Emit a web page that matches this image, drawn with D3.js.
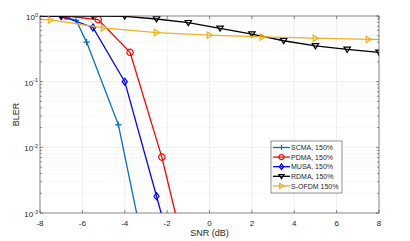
<!DOCTYPE html>
<html>
<head>
<meta charset="utf-8">
<script src="https://cdn.jsdelivr.net/npm/d3@7"></script>
<style>
  body { margin: 0; background: #fff; }
  text { font-family: "Liberation Sans", Arial, sans-serif; fill: #262626; }
</style>
</head>
<body>
<script>
var width = 410, height = 241;
var margin = {top: 16, right: 31, bottom: 28, left: 40};

// values
var xTicks = [-8, -6, -4, -2, 0, 2, 4, 6, 8];
var yTicks = [1, 0.1, 0.01, 0.001];
var yTickExp = ["0", "-1", "-2", "-3"];

var seriesNames = ["SCMA, 150%", "PDMA, 150%", "MUSA, 150%", "RDMA, 150%", "S-OFDM 150%"];
var seriesColors = ["#0072BD", "#FF0000", "#0000FF", "#000000", "#EDB120"];
var seriesMarkers = ["plus", "circle", "diamond", "down", "right"];

var scmaSnr  = [-8, -7, -6.3, -5.8, -4.3, -2.8];
var scmaBler = [1.0, 1.0, 0.86, 0.40, 0.022, 0.0001];
var scmaMarks = [1, 2, 3, 4];

var pdmaSnr  = [-8, -6.75, -5.25, -3.75, -2.25, -0.75];
var pdmaBler = [1.0, 1.0, 0.88, 0.28, 0.0071, 0.00007];
var pdmaMarks = [1, 2, 3, 4];

var musaSnr  = [-8, -7, -5.5, -4, -2.5, -1];
var musaBler = [1.0, 1.0, 0.67, 0.1, 0.0018, 0.00003];
var musaMarks = [1, 2, 3, 4];

var rdmaSnr  = [-8, -7, -5.5, -4, -2.5, -1, 0.5, 2, 3.5, 5, 6.5, 8];
var rdmaBler = [1.0, 1.0, 1.0, 0.99, 0.9, 0.79, 0.65, 0.53, 0.42, 0.35, 0.31, 0.28];
var rdmaMarks = [1, 2, 3, 4, 5, 6, 7, 8, 9, 10, 11];

var sofdmSnr  = [-8, -7.5, -5, -2.5, 0, 2.5, 5, 7.5, 8];
var sofdmBler = [0.89, 0.87, 0.66, 0.56, 0.51, 0.48, 0.46, 0.44, 0.44];
var sofdmMarks = [1, 2, 3, 4, 5, 6, 7];

var allSnr = [scmaSnr, pdmaSnr, musaSnr, rdmaSnr, sofdmSnr];
var allBler = [scmaBler, pdmaBler, musaBler, rdmaBler, sofdmBler];
var allMarks = [scmaMarks, pdmaMarks, musaMarks, rdmaMarks, sofdmMarks];

var series = seriesNames.map(function(name, i) {
  return {
    name: name, color: seriesColors[i], marker: seriesMarkers[i],
    points: allSnr[i].map(function(x, j) { return {x: x, y: allBler[i][j]}; }),
    marks: allMarks[i]
  };
});

var w = width - margin.left - margin.right,
    h = height - margin.top - margin.bottom;

var x = d3.scaleLinear().domain([-8, 8]).range([0, w]);
var y = d3.scaleLog().domain([1e-3, 1]).range([h, 0]);

var svg = d3.select("body").append("svg")
    .attr("width", width)
    .attr("height", height);

var g = svg.append("g").attr("transform", "translate(" + margin.left + "," + margin.top + ")");

svg.append("defs").append("clipPath").attr("id", "clip")
  .append("rect").attr("width", w).attr("height", h);

g.append("rect").attr("width", w).attr("height", h).attr("fill", "#fff");

// minor grid (log)
var minors = [];
[1e-3, 1e-2, 1e-1].forEach(function(d) {
  for (var k = 2; k <= 9; k++) minors.push(d * k);
});
g.selectAll(".minor").data(minors).enter().append("line")
    .attr("x1", 0).attr("x2", w)
    .attr("y1", function(d) { return y(d); }).attr("y2", function(d) { return y(d); })
    .attr("stroke", "#e8e8e8").attr("stroke-width", 0.6)
    .attr("stroke-dasharray", "1,1");

// major grid
g.selectAll(".gx").data(xTicks).enter().append("line")
    .attr("x1", function(d) { return x(d); }).attr("x2", function(d) { return x(d); })
    .attr("y1", 0).attr("y2", h)
    .attr("stroke", "#e6e6e6").attr("stroke-width", 0.7);
g.selectAll(".gy").data(yTicks).enter().append("line")
    .attr("x1", 0).attr("x2", w)
    .attr("y1", function(d) { return y(d); }).attr("y2", function(d) { return y(d); })
    .attr("stroke", "#e6e6e6").attr("stroke-width", 0.7);

// lines and markers
var line = d3.line()
    .x(function(d) { return x(d.x); })
    .y(function(d) { return y(d.y); });

var plot = g.append("g").attr("clip-path", "url(#clip)");

function markerPath(type, s) {
  if (type === "plus") return "M" + (-s) + ",0H" + s + "M0," + (-s) + "V" + s;
  if (type === "circle") return d3.symbol().type(d3.symbolCircle).size(s * s * 3.1)();
  if (type === "diamond") return "M0," + (-s * 1.1) + "L" + (s * 0.8) + ",0L0," + (s * 1.1) + "L" + (-s * 0.8) + ",0Z";
  if (type === "down") return "M" + (-s) + "," + (-s * 0.7) + "L" + s + "," + (-s * 0.7) + "L0," + (s * 0.9) + "Z";
  if (type === "right") return "M" + (-s * 0.7) + "," + (-s) + "L" + (s * 0.9) + ",0L" + (-s * 0.7) + "," + s + "Z";
}

series.forEach(function(s) {
  plot.append("path")
      .datum(s.points)
      .attr("fill", "none")
      .attr("stroke", s.color)
      .attr("stroke-width", 1.3)
      .attr("d", line);

  plot.selectAll(null)
    .data(s.marks.map(function(i) { return s.points[i]; }))
    .enter().append("path")
      .attr("transform", function(d) { return "translate(" + x(d.x) + "," + y(d.y) + ")"; })
      .attr("d", markerPath(s.marker, 3.2))
      .attr("fill", "none")
      .attr("stroke", s.color)
      .attr("stroke-width", 1.2);
});

// axes box and ticks
g.append("rect").attr("width", w).attr("height", h)
    .attr("fill", "none").attr("stroke", "#262626").attr("stroke-width", 0.5);

var tickLen = 3;
xTicks.forEach(function(d) {
  g.append("line").attr("x1", x(d)).attr("x2", x(d)).attr("y1", h).attr("y2", h - tickLen)
      .attr("stroke", "#262626").attr("stroke-width", 0.5);
  g.append("line").attr("x1", x(d)).attr("x2", x(d)).attr("y1", 0).attr("y2", tickLen)
      .attr("stroke", "#262626").attr("stroke-width", 0.5);
});
yTicks.concat(minors).forEach(function(d, i) {
  var len = i < yTicks.length ? tickLen : tickLen * 0.6;
  g.append("line").attr("x1", 0).attr("x2", len).attr("y1", y(d)).attr("y2", y(d))
      .attr("stroke", "#262626").attr("stroke-width", 0.5);
  g.append("line").attr("x1", w).attr("x2", w - len).attr("y1", y(d)).attr("y2", y(d))
      .attr("stroke", "#262626").attr("stroke-width", 0.5);
});

g.selectAll(".xl").data(xTicks).enter().append("text")
    .attr("x", function(d) { return x(d); })
    .attr("y", h + 13)
    .attr("text-anchor", "middle")
    .attr("font-size", 8)
    .text(function(d) { return d; });

var yl = g.selectAll(".yl").data(yTicks).enter().append("text")
    .attr("x", -2)
    .attr("y", function(d) { return y(d) + 4; })
    .attr("text-anchor", "end")
    .attr("font-size", 8);
yl.append("tspan").text("10");
yl.append("tspan").attr("dy", -3.5).attr("font-size", 5.5)
    .text(function(d, i) { return yTickExp[i]; });

svg.append("text")
    .attr("x", margin.left + w / 2)
    .attr("y", 236)
    .attr("text-anchor", "middle")
    .attr("font-size", 9)
    .text("SNR (dB)");

svg.append("text")
    .attr("transform", "translate(18.5," + (margin.top + h / 2) + ")rotate(-90)")
    .attr("text-anchor", "middle")
    .attr("font-size", 9)
    .text("BLER");

// legend
var lg = svg.append("g").attr("transform", "translate(271,141)");
lg.append("rect").attr("width", 71).attr("height", 52)
    .attr("fill", "#fff").attr("stroke", "#262626").attr("stroke-width", 0.5);
series.forEach(function(s, i) {
  var ly = 6.5 + i * 9.6;
  lg.append("line").attr("x1", 2).attr("x2", 19).attr("y1", ly).attr("y2", ly)
      .attr("stroke", s.color).attr("stroke-width", 1.3);
  lg.append("path").attr("transform", "translate(10.5," + ly + ")")
      .attr("d", markerPath(s.marker, 2.6))
      .attr("fill", "none").attr("stroke", s.color).attr("stroke-width", 1.2);
  lg.append("text").attr("x", 20).attr("y", ly + 2.6)
      .attr("font-size", 7).text(s.name);
});
</script>
</body>
</html>
